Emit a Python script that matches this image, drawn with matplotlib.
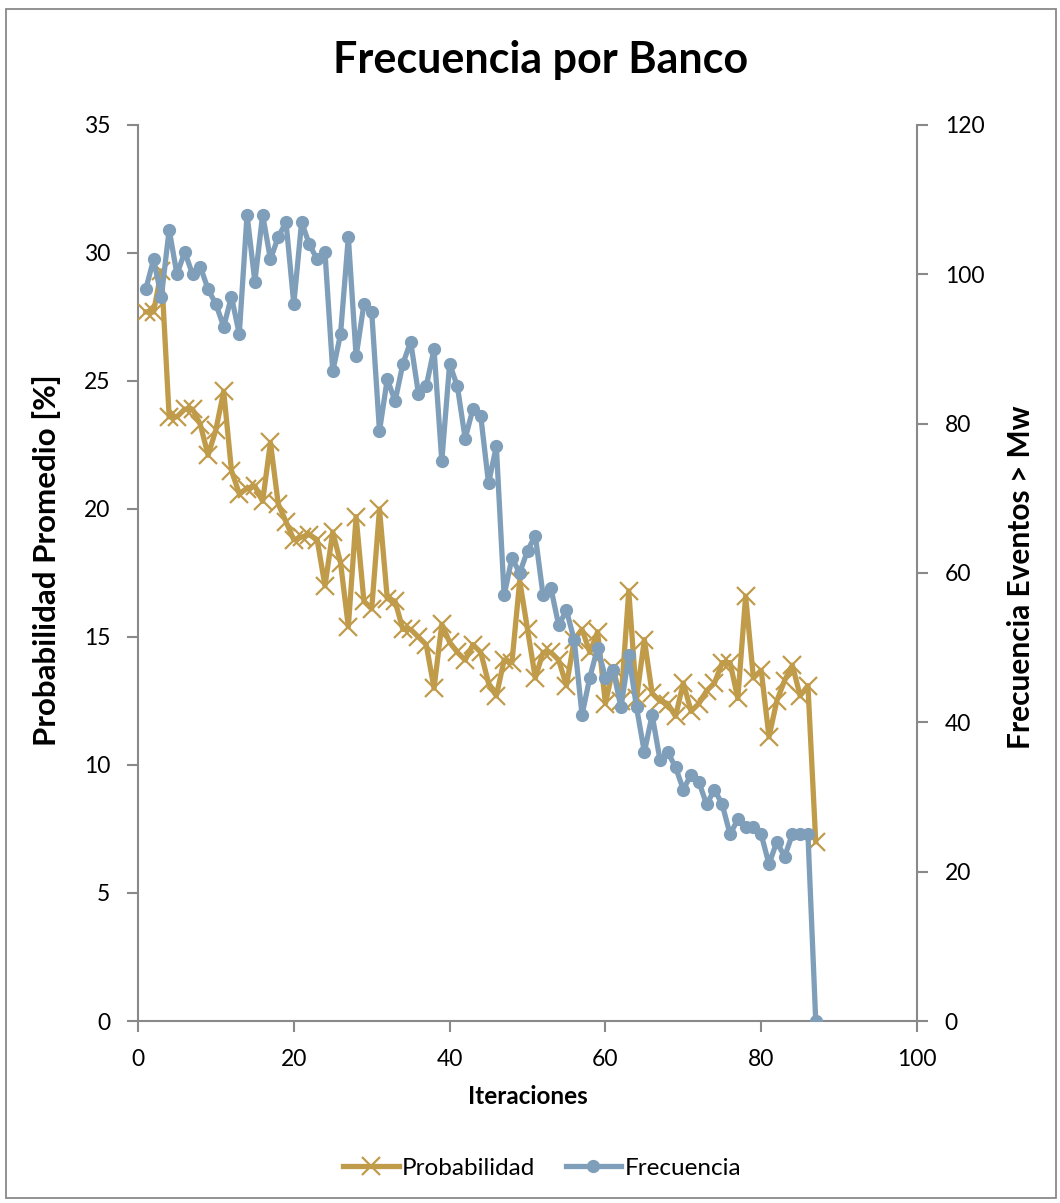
import matplotlib
matplotlib.use("Agg")
import matplotlib.pyplot as plt
from matplotlib.patches import Rectangle
from matplotlib.lines import Line2D

plt.rcParams['font.family'] = ['Lato', 'DejaVu Sans']

# Iterations 1..87
iteraciones = list(range(1, 88))

# Average probability [%] per iteration (left axis)
probabilidad = [
    27.7, 27.7, 29.3, 23.6, 23.6, 23.9, 23.9, 23.3, 22.1, 23.1,
    24.6, 21.5, 20.6, 20.8, 20.9, 20.3, 22.6, 20.2, 19.5, 18.8,
    18.9, 19.0, 18.8, 17.0, 19.1, 17.9, 15.4, 19.7, 16.4, 16.1,
    20.0, 16.5, 16.4, 15.3, 15.3, 15.0, 14.7, 13.0, 15.5, 14.8,
    14.4, 14.1, 14.7, 14.4, 13.2, 12.7, 14.1, 14.0, 17.2, 15.3,
    13.4, 14.4, 14.4, 14.1, 13.1, 14.9, 15.3, 14.4, 15.2, 12.4,
    13.8, 12.5, 16.8, 12.6, 14.9, 12.8, 12.5, 12.4, 11.9, 13.2,
    12.1, 12.4, 12.9, 13.2, 14.0, 14.0, 12.6, 16.6, 13.4, 13.7,
    11.1, 12.5, 13.3, 13.9, 12.7, 13.1, 7.0,
]

# Count of events above Mw per iteration (right axis)
frecuencia = [
    98, 102, 97, 106, 100, 103, 100, 101, 98, 96,
    93, 97, 92, 108, 99, 108, 102, 105, 107, 96,
    107, 104, 102, 103, 87, 92, 105, 89, 96, 95,
    79, 86, 83, 88, 91, 84, 85, 90, 75, 88,
    85, 78, 82, 81, 72, 77, 57, 62, 60, 63,
    65, 57, 58, 53, 55, 51, 41, 46, 50, 46,
    47, 42, 49, 42, 36, 41, 35, 36, 34, 31,
    33, 32, 29, 31, 29, 25, 27, 26, 26, 25,
    21, 24, 22, 25, 25, 25, 0,
]

x_ticks = [0, 20, 40, 60, 80, 100]
left_ticks = [0, 5, 10, 15, 20, 25, 30, 35]
right_ticks = [0, 20, 40, 60, 80, 100, 120]

gold = '#C09B4A'
blue = '#7E9EB9'
gray = '#898989'

W, H = 1060, 1203
fig = plt.figure(figsize=(W / 100, H / 100), dpi=100)
fig.patch.set_facecolor('white')

# Chart-area frame
fig.patches.append(Rectangle((6 / W, 1 - 1198 / H), 1050 / W, 1189 / H,
                             transform=fig.transFigure, fill=False,
                             edgecolor=gray, linewidth=1.3))

ax = fig.add_axes([138 / W, 1 - 1021 / H, (917 - 138) / W, (1021 - 125) / H])
ax2 = ax.twinx()

ax.plot(iteraciones, probabilidad, color=gold, linewidth=3.8, marker='x',
        markersize=12.5, markeredgewidth=1.6, markeredgecolor=gold, zorder=3)
ax2.plot(iteraciones, frecuencia, color=blue, linewidth=3.8, marker='o',
         markersize=8.5, markerfacecolor=blue, markeredgecolor=blue, zorder=3)

ax.set_xlim(0, 100)
ax.set_ylim(0, 35)
ax2.set_ylim(0, 120)
ax.set_xticks(x_ticks)
ax.set_yticks(left_ticks)
ax2.set_yticks(right_ticks)

for a in (ax, ax2):
    a.spines['top'].set_visible(False)
    for s in ('left', 'right', 'bottom'):
        a.spines[s].set_color(gray)
        a.spines[s].set_linewidth(1.5)
    a.tick_params(axis='both', direction='out', length=8, width=1.5,
                  color=gray, labelsize=16.5, labelcolor='black', pad=12)
    a.set_facecolor('none')
ax.spines['right'].set_visible(False)
ax2.spines['left'].set_visible(False)
ax2.spines['bottom'].set_visible(False)

fig.text(541 / W, 1 - 60 / H, 'Frecuencia por Banco', ha='center', va='center',
         fontsize=31, fontweight='bold')
fig.text(47 / W, 1 - 560 / H, 'Probabilidad Promedio [%]', rotation=90,
         ha='center', va='center', fontsize=22.5, fontweight='bold')
fig.text(1021 / W, 1 - 577 / H, 'Frecuencia Eventos > Mw', rotation=90,
         ha='center', va='center', fontsize=21.5, fontweight='bold')
fig.text(528 / W, 1 - 1097 / H, 'Iteraciones', ha='center', va='center',
         fontsize=17.5, fontweight='bold')

handles = [
    Line2D([], [], color=gold, linewidth=3.8, marker='x', markersize=12.5,
           markeredgewidth=1.6),
    Line2D([], [], color=blue, linewidth=3.8, marker='o', markersize=8.5),
]
fig.legend(handles, ['Probabilidad', 'Frecuencia'], loc='center',
           bbox_to_anchor=(542 / W, 1 - 1168 / H), ncol=2, frameon=False,
           fontsize=17.5, handlelength=2.3, handletextpad=0.12,
           columnspacing=1.25)

fig.savefig('out.png', dpi=100, facecolor='white')
